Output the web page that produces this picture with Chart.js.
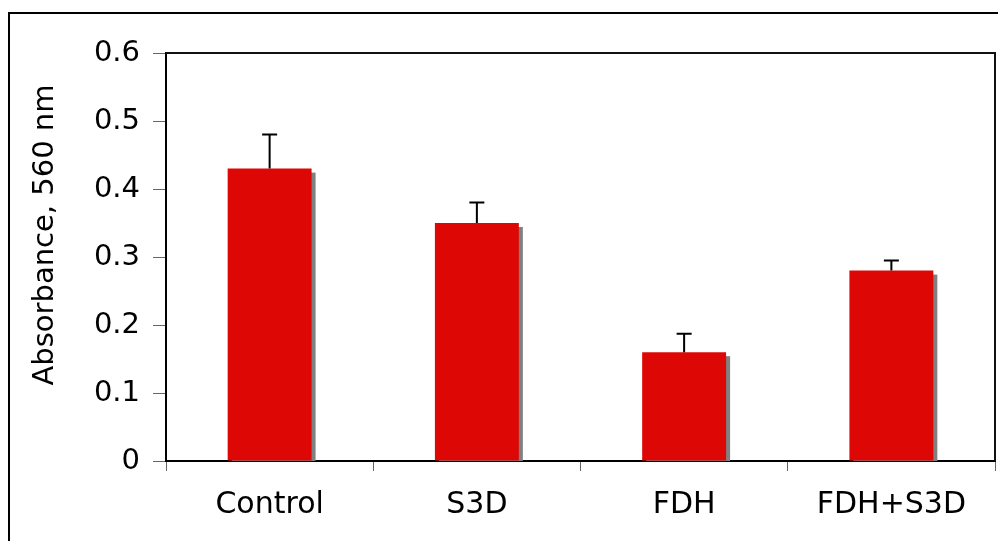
<!DOCTYPE html>
<html>
<head>
<meta charset="utf-8">
<script src="https://cdn.jsdelivr.net/npm/chart.js@4"></script>
<style>
  body { margin: 0; background: #fff; }
  #wrap { width: 998px; height: 541px; }
</style>
</head>
<body>
<div id="wrap"><canvas id="grafica" width="998" height="541"></canvas></div>
<script>
// datos
const categorias = ['Control', 'S3D', 'FDH', 'FDH+S3D'];
const absorbancia = [0.43, 0.35, 0.16, 0.28];
const errorSup = [0.05, 0.03, 0.027, 0.015];
const tituloY = 'Absorbance, 560 nm';

const fuente = '"DejaVu Sans", Verdana, sans-serif';

// sombra gris detras de cada barra + barras de error
const sombraYError = {
  id: 'sombraYError',
  beforeDatasetsDraw(chart) {
    const ctx = chart.ctx;
    const meta = chart.getDatasetMeta(0);
    const area = chart.chartArea;
    ctx.save();
    ctx.beginPath();
    ctx.rect(area.left, area.top, area.right - area.left, area.bottom - area.top);
    ctx.clip();
    ctx.fillStyle = '#808080';
    meta.data.forEach(bar => {
      const w = bar.width;
      ctx.fillRect(bar.x - w / 2 + 4, bar.y + 4, w, bar.base - bar.y);
    });
    ctx.restore();
  },
  afterDatasetsDraw(chart) {
    const ctx = chart.ctx;
    const y = chart.scales.y;
    const meta = chart.getDatasetMeta(0);
    ctx.save();
    ctx.strokeStyle = '#000';
    ctx.lineWidth = 2;
    meta.data.forEach((bar, i) => {
      const arriba = y.getPixelForValue(absorbancia[i] + errorSup[i]);
      ctx.beginPath();
      ctx.moveTo(bar.x, bar.y);
      ctx.lineTo(bar.x, arriba);
      ctx.moveTo(bar.x - 7.5, arriba);
      ctx.lineTo(bar.x + 7.5, arriba);
      ctx.stroke();
    });
    ctx.restore();
  },
  afterDraw(chart) {
    const ctx = chart.ctx;
    const area = chart.chartArea;
    ctx.save();
    // marco del area de trazado (arriba y derecha)
    ctx.strokeStyle = '#111';
    ctx.lineWidth = 2;
    ctx.beginPath();
    ctx.moveTo(area.left, area.top);
    ctx.lineTo(area.right, area.top);
    ctx.lineTo(area.right, area.bottom);
    ctx.stroke();
    // borde exterior
    ctx.strokeStyle = '#000';
    ctx.beginPath();
    ctx.moveTo(9, 541);
    ctx.lineTo(9, 13);
    ctx.lineTo(998, 13);
    ctx.stroke();
    // titulo del eje y
    ctx.fillStyle = '#000';
    ctx.font = '29px ' + fuente;
    ctx.textAlign = 'center';
    ctx.textBaseline = 'middle';
    ctx.translate(45, 235);
    ctx.rotate(-Math.PI / 2);
    ctx.fillText(tituloY, 0, 0);
    ctx.restore();
  }
};

const ctx = document.getElementById('grafica').getContext('2d');
new Chart(ctx, {
  type: 'bar',
  data: {
    labels: categorias,
    datasets: [{
      label: tituloY,
      data: absorbancia,
      backgroundColor: '#dd0806',
      borderWidth: 0,
      categoryPercentage: 1,
      barPercentage: 0.405
    }]
  },
  options: {
    responsive: false,
    animation: false,
    events: [],
    layout: { padding: { top: 53, right: 3, left: 0, bottom: 0 } },
    plugins: {
      legend: { display: false },
      tooltip: { enabled: false }
    },
    scales: {
      x: {
        afterFit(scale) { scale.height = 80; },
        grid: {
          drawOnChartArea: false,
          drawTicks: true,
          tickLength: 10,
          color: '#666',
          offset: true
        },
        border: { color: '#000', width: 2 },
        ticks: {
          color: '#000',
          padding: 16,
          font: { family: fuente, size: 30 }
        }
      },
      y: {
        min: 0,
        max: 0.6,
        afterFit(scale) { scale.width = 166; },
        grid: {
          drawOnChartArea: false,
          drawTicks: true,
          tickLength: 13,
          color: '#666'
        },
        border: { color: '#000', width: 2 },
        ticks: {
          stepSize: 0.1,
          color: '#000',
          padding: 13,
          font: { family: fuente, size: 29 }
        }
      }
    }
  },
  plugins: [sombraYError]
});
</script>
</body>
</html>
